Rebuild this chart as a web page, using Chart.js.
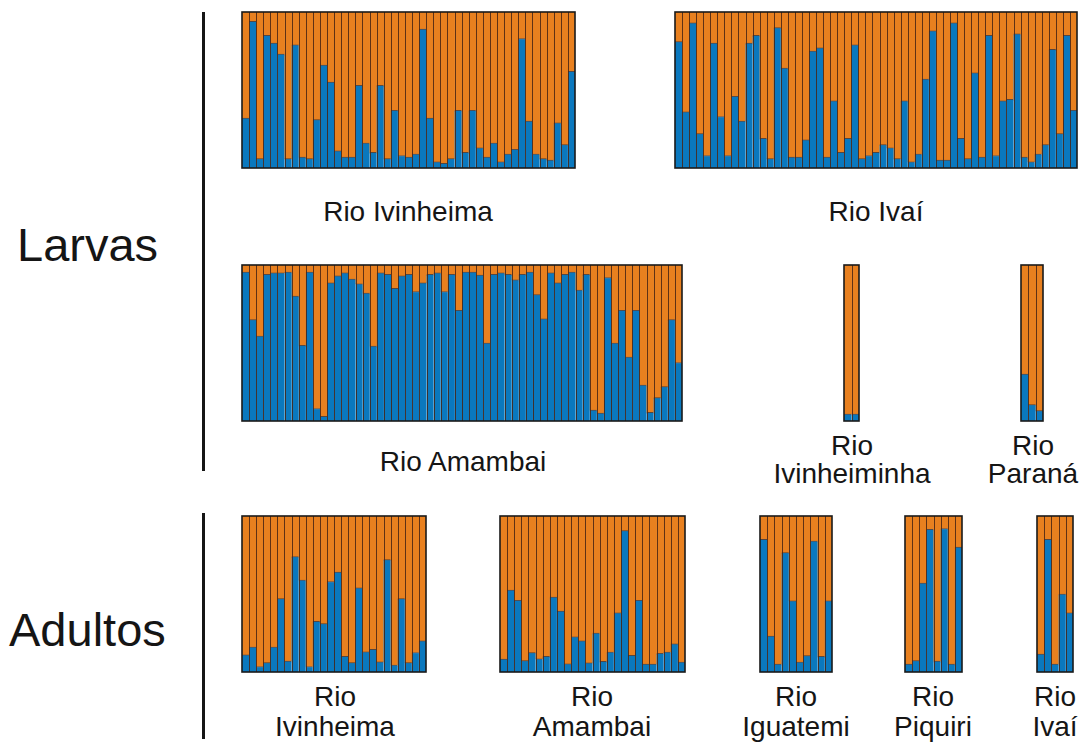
<!DOCTYPE html>
<html><head><meta charset="utf-8">
<script src="https://cdn.jsdelivr.net/npm/chart.js@4"></script>
<style>
body{margin:0;background:#fff;width:1083px;height:744px;position:relative;overflow:hidden;font-family:"Liberation Sans",Arial,sans-serif;color:#151515}
.lbl{position:absolute;width:300px;text-align:center;font-size:28px;white-space:nowrap}
.big{position:absolute;font-size:47px;line-height:47px;white-space:nowrap}
.vline{position:absolute;background:#151515;width:3px}
canvas{position:absolute}
</style></head><body>
<div class="big" style="left:17px;top:221px">Larvas</div>
<div class="big" style="left:9px;top:606px">Adultos</div>
<div class="vline" style="left:202px;top:12px;height:459px"></div>
<div class="vline" style="left:202px;top:513px;height:226px"></div>

<div class="lbl" style="left:258px;top:198px;line-height:28px">Rio Ivinheima</div>
<div class="lbl" style="left:726px;top:198px;line-height:28px">Rio Ivaí</div>
<div class="lbl" style="left:313px;top:448px;line-height:28px">Rio Amambai</div>
<div class="lbl" style="left:702px;top:432px;line-height:28px">Rio<br>Ivinheiminha</div>
<div class="lbl" style="left:883px;top:432px;line-height:28px">Rio<br>Paraná</div>
<div class="lbl" style="left:185px;top:682px;line-height:30px">Rio<br>Ivinheima</div>
<div class="lbl" style="left:442px;top:682px;line-height:30px">Rio<br>Amambai</div>
<div class="lbl" style="left:646px;top:682px;line-height:30px">Rio<br>Iguatemi</div>
<div class="lbl" style="left:783px;top:682px;line-height:30px">Rio<br>Piquiri</div>
<div class="lbl" style="left:905px;top:682px;line-height:30px">Rio<br>Ivaí</div>

<script>
// Membership proportions for cluster 1 (blue); cluster 2 (orange) is the remainder.
const larvaeIvinheima = [0.32,0.94,0.06,0.85,0.80,0.73,0.06,0.79,0.07,0.06,0.31,0.66,0.55,0.11,0.07,0.07,0.53,0.16,0.10,0.53,0.06,0.37,0.08,0.07,0.09,0.89,0.32,0.04,0.03,0.06,0.37,0.10,0.37,0.13,0.07,0.16,0.04,0.09,0.12,0.83,0.30,0.09,0.06,0.05,0.29,0.15,0.62];
const larvaeIvai = [0.81,0.36,0.93,0.22,0.08,0.80,0.33,0.08,0.46,0.30,0.80,0.85,0.19,0.06,0.90,0.64,0.07,0.07,0.18,0.75,0.77,0.07,0.43,0.10,0.19,0.79,0.06,0.08,0.10,0.15,0.13,0.06,0.43,0.04,0.09,0.57,0.88,0.05,0.05,0.93,0.19,0.06,0.61,0.07,0.85,0.08,0.43,0.44,0.86,0.07,0.04,0.09,0.15,0.76,0.22,0.85,0.37];
const larvaeAmambai = [0.955,0.65,0.545,0.94,0.95,0.95,0.955,0.80,0.485,0.955,0.08,0.03,0.885,0.93,0.95,0.91,0.88,0.82,0.48,0.95,0.94,0.85,0.93,0.94,0.83,0.885,0.94,0.95,0.83,0.94,0.71,0.955,0.955,0.935,0.50,0.94,0.95,0.94,0.905,0.94,0.955,0.81,0.655,0.95,0.885,0.94,0.955,0.84,0.94,0.07,0.05,0.92,0.50,0.71,0.41,0.71,0.23,0.055,0.15,0.22,0.65,0.375];
const larvaeIvinheiminha = [0.045,0.045];
const larvaeParana = [0.30,0.105,0.066];
const adultIvinheima = [0.11,0.16,0.035,0.06,0.16,0.47,0.07,0.74,0.59,0.035,0.325,0.31,0.58,0.64,0.10,0.06,0.54,0.13,0.145,0.065,0.72,0.045,0.47,0.06,0.125,0.20];
const adultAmambai = [0.083,0.525,0.46,0.073,0.124,0.085,0.10,0.48,0.39,0.053,0.226,0.20,0.058,0.25,0.068,0.128,0.38,0.906,0.107,0.46,0.05,0.05,0.12,0.128,0.18,0.064];
const adultIguatemi = [0.85,0.23,0.05,0.765,0.457,0.064,0.105,0.84,0.10,0.457];
const adultPiquiri = [0.05,0.073,0.57,0.915,0.07,0.92,0.05,0.80];
const adultIvai = [0.115,0.85,0.05,0.50,0.38];

const BLUE = '#0a78be', ORANGE = '#e8801f';

// Panel plot areas: [left, top, right, bottom]
const panels = [
  [larvaeIvinheima, 242, 12, 575, 168],
  [larvaeIvai, 675, 12, 1077, 168],
  [larvaeAmambai, 242, 265, 682, 421],
  [larvaeIvinheiminha, 844, 265, 859, 421],
  [larvaeParana, 1021, 265, 1043, 421],
  [adultIvinheima, 242, 516, 426, 672],
  [adultAmambai, 500, 516, 685, 672],
  [adultIguatemi, 760, 516, 832, 672],
  [adultPiquiri, 905, 516, 962, 672],
  [adultIvai, 1037, 516, 1073, 672]
];

const framePlugin = {
  id: 'frame',
  afterDatasetsDraw(chart) {
    const ctx = chart.ctx, xs = chart.scales.x, a = chart.chartArea;
    const n = chart.data.labels.length;
    ctx.save();
    ctx.strokeStyle = 'rgba(70,35,20,0.85)';
    ctx.lineWidth = 1;
    for (let i = 1; i < n; i++) {
      const x = Math.round((xs.getPixelForValue(i - 1) + xs.getPixelForValue(i)) / 2) + 0.5;
      ctx.beginPath(); ctx.moveTo(x, a.top); ctx.lineTo(x, a.bottom); ctx.stroke();
    }
    ctx.strokeStyle = '#1a1a1a';
    ctx.lineWidth = 1.6;
    ctx.strokeRect(a.left, a.top, a.right - a.left, a.bottom - a.top);
    ctx.restore();
  }
};

const PAD = 3;
panels.forEach(([vals, x0, y0, x1, y1]) => {
  const c = document.createElement('canvas');
  c.width = x1 - x0 + 2 * PAD;
  c.height = y1 - y0 + 2 * PAD;
  c.style.left = (x0 - PAD) + 'px';
  c.style.top = (y0 - PAD) + 'px';
  document.body.appendChild(c);
  const labels = vals.map((_, i) => i + 1);
  new Chart(c, {
    type: 'bar',
    data: {
      labels,
      datasets: [
        { data: vals, backgroundColor: BLUE, borderColor: 'rgba(30,40,60,0.75)',
          borderWidth: {top: 1, left: 0, right: 0, bottom: 0}, borderSkipped: false,
          categoryPercentage: 1, barPercentage: 1 },
        { data: vals.map(v => +(1 - v).toFixed(3)), backgroundColor: ORANGE, borderWidth: 0,
          categoryPercentage: 1, barPercentage: 1 }
      ]
    },
    options: {
      responsive: false,
      animation: false,
      layout: { padding: PAD },
      plugins: { legend: { display: false }, tooltip: { enabled: false } },
      scales: {
        x: { stacked: true, display: false },
        y: { stacked: true, display: false, min: 0, max: 1 }
      }
    },
    plugins: [framePlugin]
  });
});
</script>
</body></html>
